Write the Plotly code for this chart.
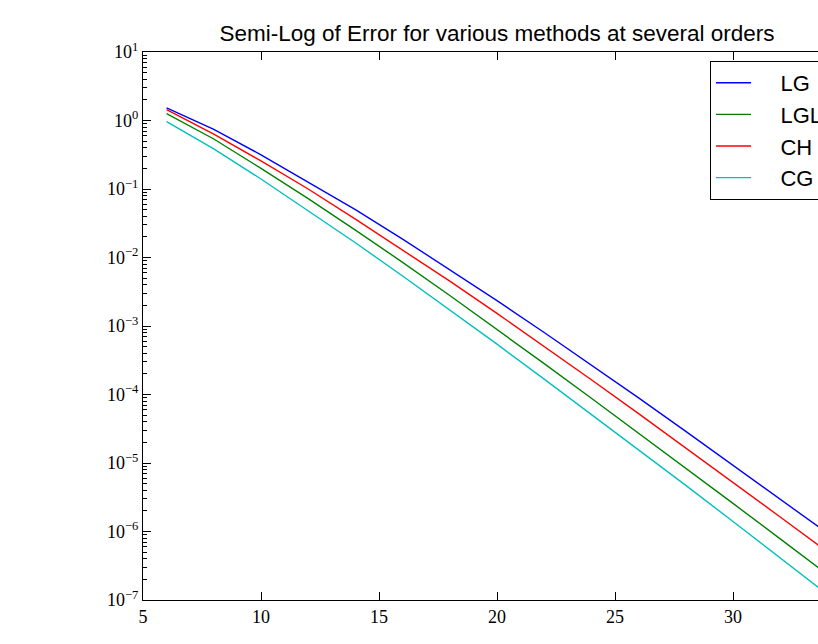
import plotly.graph_objects as go

orders = [6, 8, 10, 12, 14, 16, 18, 20, 22, 24, 26, 28, 30, 32, 34]

err_LG = [1.53, 0.741, 0.316, 0.126, 0.0501, 0.0186, 6.68e-3, 2.34e-3, 8.04e-4,
          2.69e-4, 8.91e-5, 2.90e-5, 9.33e-6, 2.99e-6, 9.44e-7]
err_LGL = [1.26, 0.537, 0.200, 0.0724, 0.0251, 8.51e-3, 2.79e-3, 8.91e-4, 2.82e-4,
           8.81e-5, 2.74e-5, 8.41e-6, 2.57e-6, 7.80e-7, 2.36e-7]
err_CH = [1.445, 0.631, 0.257, 0.100, 0.0363, 0.0130, 4.52e-3, 1.53e-3, 5.07e-4,
          1.64e-4, 5.25e-5, 1.66e-5, 5.21e-6, 1.63e-6, 5.07e-7]
err_CG = [0.966, 0.385, 0.140, 0.0484, 0.0164, 5.37e-3, 1.72e-3, 5.43e-4, 1.68e-4,
          5.15e-5, 1.57e-5, 4.71e-6, 1.40e-6, 4.13e-7, 1.21e-7]

series_names = ["LG", "LGL", "CH", "CG"]
series_colors = ["#0000ff", "#008000", "#ff0000", "#00bfbf"]
series_values = [err_LG, err_LGL, err_CH, err_CG]

y_exps = [-7, -6, -5, -4, -3, -2, -1, 0, 1]
x_ticks = [5, 10, 15, 20, 25, 30]

fig = go.Figure()
for i, (name, color, vals) in enumerate(zip(series_names, series_colors, series_values)):
    fig.add_trace(go.Scatter(x=orders, y=vals, mode="lines",
                             name="\u00a0\u00a0\u00a0\u00a0" + name,
                             line=dict(color=color, width=1.4)))

minor_vals = [k * 10.0 ** e for e in range(-7, 1) for k in range(2, 10)]

W = 880
fig.update_layout(
    width=W, height=644,
    margin=dict(l=143, r=W - 851, t=52, b=44),
    paper_bgcolor="white", plot_bgcolor="white",
    title=dict(text="Semi-Log of Error for various methods at several orders",
               x=0.5, xref="paper", xanchor="center",
               y=(644 - 41) / 644, yref="container", yanchor="bottom",
               font=dict(family="Liberation Sans, Arial, sans-serif", size=22.5, color="black")),
    showlegend=True,
    legend=dict(x=(710 - 143) / 708, y=(600 - 61) / 548, xanchor="left", yanchor="top",
                bgcolor="white", bordercolor="black", borderwidth=1,
                itemwidth=35, tracegroupgap=0,
                font=dict(family="Liberation Sans, Arial, sans-serif", size=22, color="black")),
    xaxis=dict(range=[5, 35], tickvals=x_ticks, ticktext=[str(v) for v in x_ticks],
               ticks="inside", ticklen=8, tickwidth=1, tickcolor="black",
               showline=True, linecolor="black", linewidth=1, mirror="ticks",
               showgrid=False, zeroline=False,
               tickfont=dict(family="Liberation Serif, serif", size=18, color="black")),
    yaxis=dict(type="log", range=[-7, 1],
               tickvals=[10.0 ** e for e in y_exps],
               ticktext=[f"10<sup>{'−' if e < 0 else ''}{abs(e)}</sup>" for e in y_exps],
               ticks="inside", ticklen=8, tickwidth=1, tickcolor="black",
               showline=True, linecolor="black", linewidth=1, mirror="ticks",
               showgrid=False, zeroline=False,
               minor=dict(tickvals=minor_vals, ticks="inside", ticklen=4,
                          tickcolor="black", tickwidth=1, showgrid=False),
               tickfont=dict(family="Liberation Serif, serif", size=18, color="black")),
)

fig.write_html("out.html", post_script=(
    "document.documentElement.style.overflow='hidden';"
    "document.body.style.overflow='hidden';document.body.style.margin='0';"))
